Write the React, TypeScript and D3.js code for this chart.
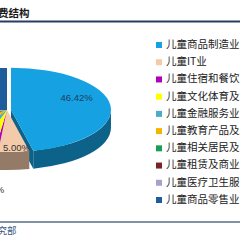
import * as d3 from 'd3';

// categories (legend order) and shares in %
const categories = [
  '儿童商品制造业',
  '儿童IT业',
  '儿童住宿和餐饮业',
  '儿童文化体育及娱乐业',
  '儿童金融服务业',
  '儿童教育产品及服务业',
  '儿童相关居民及其他服务业',
  '儿童租赁及商业服务业',
  '儿童医疗卫生服务业',
  '儿童商品零售业',
];
const shares = [46.42, 5.0, 0.6, 2.8, 3.5, 6.2, 4.1, 2.3, 3.9, 25.18];
const colors = [
  '#16a2e2', '#f4cbaa', '#b400b4', '#ffff00', '#4bacc6',
  '#f5b400', '#17a052', '#7a2323', '#a9a1c9', '#1f5c9c',
];
const explodedIndex = 0;

const W = 240;
const H = 240;

export default function App() {
  const cx = 7;
  const cy = 110;
  const rx = 100;
  const ry = 42;
  const depth = 18;
  const explode = 4;

  const pie = d3.pie<number>().sort(null).value(d => d).startAngle(0).endAngle(2 * Math.PI);
  const arcs = pie(shares);

  const pt = (ox: number, oy: number, a: number, k = 1) =>
    [ox + rx * k * Math.sin(a), oy - ry * k * Math.cos(a)] as [number, number];

  const slices = arcs.map((a, i) => {
    let ox = cx;
    let oy = cy;
    if (i === explodedIndex) {
      const mid = (a.startAngle + a.endAngle) / 2;
      ox += explode * Math.sin(mid);
      oy -= explode * (ry / rx) * Math.cos(mid);
    }
    const a0 = a.startAngle;
    const a1 = a.endAngle;
    const p0 = pt(ox, oy, a0);
    const p1 = pt(ox, oy, a1);
    const large = a1 - a0 > Math.PI ? 1 : 0;
    const top = `M${ox},${oy}L${p0[0]},${p0[1]}A${rx},${ry} 0 ${large} 1 ${p1[0]},${p1[1]}Z`;

    let side = '';
    const s = Math.max(a0, Math.PI / 2);
    const e = Math.min(a1, (3 * Math.PI) / 2);
    if (s < e) {
      const q0 = pt(ox, oy, s);
      const q1 = pt(ox, oy, e);
      const lg = e - s > Math.PI ? 1 : 0;
      side = `M${q0[0]},${q0[1]}A${rx},${ry} 0 ${lg} 1 ${q1[0]},${q1[1]}` +
        `L${q1[0]},${q1[1] + depth}A${rx},${ry} 0 ${lg} 0 ${q0[0]},${q0[1] + depth}Z`;
    }
    let wall = '';
    if (i === explodedIndex) {
      wall = [p0, p1].map(p =>
        `M${ox},${oy}L${p[0]},${p[1]}L${p[0]},${p[1] + depth}L${ox},${oy + depth}Z`).join('');
    }

    const mid = (a0 + a1) / 2;
    const inside = shares[i] >= 5;
    let lx: number;
    let ly: number;
    if (i === explodedIndex) {
      [lx, ly] = pt(ox, oy, mid, 0.66);
      ly -= 8;
    } else if (inside) {
      [lx, ly] = pt(ox, oy, mid, 0.8);
      lx += 4;
      ly += 5;
    } else {
      [lx, ly] = pt(ox, oy, mid, 1.5);
      if (Math.cos(mid) < 0) ly += depth;
    }
    const base = d3.color(colors[i])!;
    return {
      top, side, wall, lx, ly, inside,
      fill: colors[i],
      dark: base.darker(1.4).formatHex(),
      label: `${shares[i].toFixed(2)}%`,
    };
  });

  // only labels that reach into the visible area
  const shownLabels = slices
    .map((s, i) => ({ ...s, i }))
    .filter(s => s.lx + 18 > 0);

  const legendY = d3.scalePoint<string>().domain(categories).range([45, 200]);

  return (
    <div style={{ position: 'fixed', left: 0, top: 0 }}>
      <svg width={W} height={H} style={{ display: 'block', background: '#fff' }}>
        {/* header */}
        <text x={-2} y={14} dominantBaseline="middle" fontFamily="'Noto Sans CJK SC'"
          fontSize={10.5} fontWeight="bold" fill="#1a1a1a">费结构</text>
        <line x1={0} x2={W} y1={21.5} y2={21.5} stroke="#243f60" strokeWidth={2} />

        {/* 3d pie */}
        <g>
          {slices.map((s, i) => s.wall && <path key={'w' + i} d={s.wall} fill={s.dark} />)}
          {slices.map((s, i) => s.side && <path key={'s' + i} d={s.side} fill={s.dark} />)}
          {slices.map((s, i) => <path key={'t' + i} d={s.top} fill={s.fill} />)}
          {shownLabels.map(s => (
            <text key={'l' + s.i} x={s.lx} y={s.ly} textAnchor="middle" dominantBaseline="middle"
              fontFamily="'Liberation Sans', Arial" fontSize={9.5}
              fill={s.i === 0 ? '#1f3a60' : '#333'}>{s.label}</text>
          ))}
        </g>

        {/* legend */}
        <g fontFamily="'Noto Sans CJK SC'" fontSize={10.5} fill="#222">
          {categories.map((c, i) => (
            <g key={c} transform={`translate(0,${legendY(c)})`}>
              <rect x={156} y={-3} width={6} height={6} fill={colors[i]} />
              <text x={166} y={0} dominantBaseline="middle">{c}</text>
            </g>
          ))}
        </g>

        {/* footer */}
        <line x1={0} x2={W} y1={222} y2={222} stroke="#5b6b85" strokeWidth={1.5} />
        <text x={-12} y={231} dominantBaseline="middle" fontFamily="'Noto Sans CJK SC'"
          fontSize={9.5} fill="#3d5a80">研究部</text>
      </svg>
    </div>
  );
}
